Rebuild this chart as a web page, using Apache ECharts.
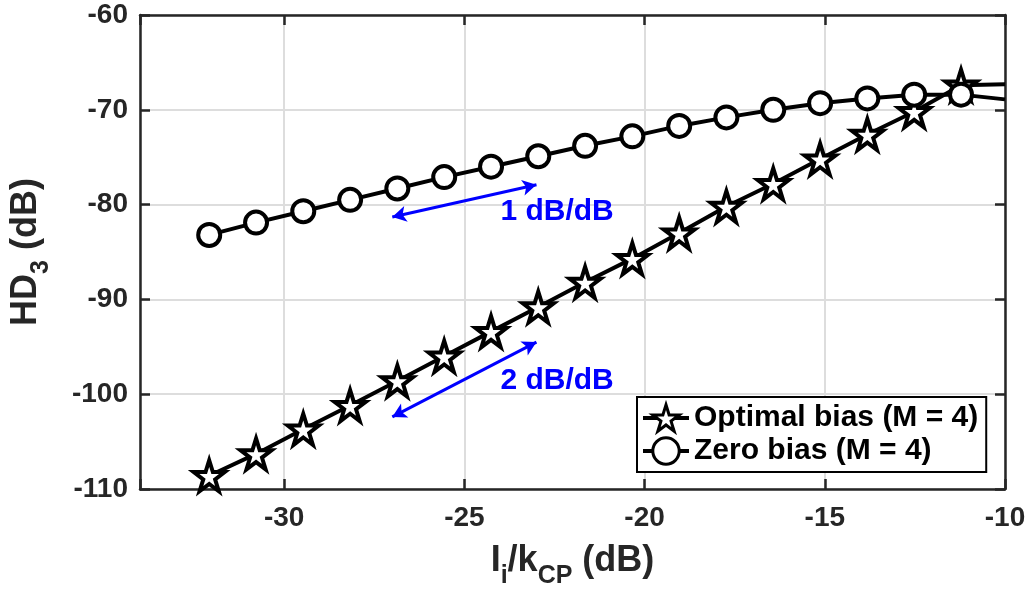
<!DOCTYPE html>
<html>
<head>
<meta charset="utf-8">
<script src="https://cdn.jsdelivr.net/npm/echarts@6/dist/echarts.min.js"></script>
<style>
  html, body { margin: 0; padding: 0; background: #fff; }
  #chart { width: 1031px; height: 592px; }
</style>
</head>
<body>
<div id="chart"></div>
<script>
// Input level I_i/k_CP (dB) at each simulated point
const inputLevel = [-32.08, -30.78, -29.47, -28.17, -26.86, -25.56, -24.26, -22.95, -21.65,
                    -20.34, -19.04, -17.73, -16.43, -15.13, -13.82, -12.52, -11.22, -10.0];

// Third-order harmonic distortion HD3 (dB)
const hd3Optimal = [-108.6, -106.3, -103.7, -101.2, -98.6, -96.0, -93.4, -90.8, -88.2,
                    -85.7, -83.0, -80.2, -77.8, -75.2, -72.6, -70.2, -67.4, -67.3];
const hd3Zero    = [-83.2, -81.9, -80.7, -79.5, -78.3, -77.1, -76.0, -74.9, -73.8,
                    -72.8, -71.7, -70.8, -70.0, -69.3, -68.8, -68.4, -68.4, -68.9];

const seriesNames = ['Optimal bias (M = 4)', 'Zero bias (M = 4)'];

// Slope guide arrows: [start, end] in (dB, dB), plus caption anchor
const slopeArrows = [
  { from: [-27.0, -81.3], to: [-23.0, -77.9], text: '1 dB/dB', at: [-24.0, -80.7] },
  { from: [-27.0, -102.4], to: [-23.0, -94.5], text: '2 dB/dB', at: [-24.0, -98.6] }
];

const xRange = { min: -34, max: -10, splitNumber: 5 };
const yTicks = { min: -110, max: -60, interval: 10 };

const FONT = '"Liberation Sans", Arial, Helvetica, sans-serif';
const AXIS_COLOR = '#262626';
const GRID_COLOR = '#dddddd';

const STAR = 'path://M50 0 L61.23 34.55 L97.55 34.55 L68.16 55.9 L79.39 90.45 L50 69.1 L20.61 90.45 L31.84 55.9 L2.45 34.55 L38.77 34.55 Z';

function pairs(xs, ys) {
  return xs.map((x, i) => {
    const item = { value: [x, ys[i]] };
    // the last point only carries the curve to the axis edge
    if (i === xs.length - 1) item.symbol = 'none';
    return item;
  });
}

const axisLineStyle = { color: AXIS_COLOR, width: 2.5 };
const innerTicks = { show: true, inside: true, length: 10, lineStyle: { color: AXIS_COLOR, width: 2.5 } };

const titleRich = {
  m: { fontFamily: FONT, fontWeight: 'bold', fontSize: 36, color: AXIS_COLOR, verticalAlign: 'top' },
  s: { fontFamily: FONT, fontWeight: 'bold', fontSize: 25, color: AXIS_COLOR, verticalAlign: 'top', padding: [21, 0, 0, 0] }
};

const chart = echarts.init(document.getElementById('chart'), null, { renderer: 'canvas' });

chart.setOption({
  backgroundColor: '#ffffff',
  animation: false,
  textStyle: { fontFamily: FONT },
  grid: { left: 140, right: 26, top: 15, bottom: 103, show: false, containLabel: false, outerBoundsMode: 'none' },
  legend: {
    orient: 'vertical',
    left: 637,
    top: 397,
    padding: [6, 8, 6, 4],
    itemGap: 3,
    itemWidth: 46,
    itemHeight: 33,
    backgroundColor: '#ffffff',
    borderColor: '#000000',
    borderWidth: 2,
    borderRadius: 0,
    lineStyle: { width: 4 },
    itemStyle: { borderWidth: 3 },
    data: seriesNames,
    textStyle: { fontFamily: FONT, fontWeight: 'bold', fontSize: 30, color: '#000' }
  },
  xAxis: [
    {
      type: 'value',
      min: xRange.min,
      max: xRange.max,
      splitNumber: xRange.splitNumber,
      axisLine: { show: true, onZero: false, lineStyle: axisLineStyle },
      axisTick: innerTicks,
      axisLabel: {
        color: AXIS_COLOR, fontFamily: FONT, fontWeight: 'bold', fontSize: 28, margin: 15,
        formatter: v => (v === xRange.min ? '' : String(v))
      },
      splitLine: { show: true, lineStyle: { color: GRID_COLOR, width: 2 } },
      name: '{m|I}{s|i}{m|/k}{s|CP}{m| (dB)}',
      nameLocation: 'middle',
      nameGap: 54,
      nameTextStyle: { rich: titleRich }
    },
    {
      // top frame edge
      type: 'value', position: 'top',
      min: xRange.min, max: xRange.max, splitNumber: xRange.splitNumber,
      axisLine: { show: true, onZero: false, lineStyle: axisLineStyle },
      axisTick: innerTicks,
      axisLabel: { show: false },
      splitLine: { show: false }
    }
  ],
  yAxis: [
    {
      type: 'value',
      min: yTicks.min,
      max: yTicks.max,
      interval: yTicks.interval,
      axisLine: { show: true, onZero: false, lineStyle: axisLineStyle },
      axisTick: innerTicks,
      axisLabel: { color: AXIS_COLOR, fontFamily: FONT, fontWeight: 'bold', fontSize: 28, margin: 12 },
      splitLine: { show: true, lineStyle: { color: GRID_COLOR, width: 2 } },
      name: '{m|HD}{s|3}{m| (dB)}',
      nameLocation: 'middle',
      nameGap: 86,
      nameTextStyle: { rich: titleRich }
    },
    {
      // right frame edge
      type: 'value', position: 'right',
      min: yTicks.min, max: yTicks.max, interval: yTicks.interval,
      axisLine: { show: true, onZero: false, lineStyle: axisLineStyle },
      axisTick: innerTicks,
      axisLabel: { show: false },
      splitLine: { show: false }
    }
  ],
  series: [
    {
      name: seriesNames[0],
      type: 'line',
      data: pairs(inputLevel, hd3Optimal),
      symbol: STAR,
      symbolSize: 31,
      showAllSymbol: true,
      lineStyle: { color: '#000', width: 4 },
      itemStyle: { color: '#ffffff', borderColor: '#000', borderWidth: 4 },
      z: 3
    },
    {
      name: seriesNames[1],
      type: 'line',
      data: pairs(inputLevel, hd3Zero),
      symbol: 'circle',
      symbolSize: 22,
      showAllSymbol: true,
      lineStyle: { color: '#000', width: 4 },
      itemStyle: { color: '#ffffff', borderColor: '#000', borderWidth: 4 },
      z: 4
    },
    {
      // slope guides with their captions
      type: 'scatter',
      silent: true,
      symbolSize: 0,
      itemStyle: { opacity: 1 },
      data: slopeArrows.map(a => ({ value: a.at, name: a.text })),
      label: {
        show: true,
        position: 'right',
        distance: 0,
        formatter: p => p.name,
        color: '#0000ff',
        opacity: 1,
        fontFamily: FONT,
        fontWeight: 'bold',
        fontSize: 30
      },
      markLine: {
        silent: true,
        symbol: ['arrow', 'arrow'],
        symbolSize: [12, 14],
        lineStyle: { color: '#0000ff', width: 3, type: 'solid', opacity: 1 },
        label: { show: false },
        data: slopeArrows.map(a => [{ coord: a.from }, { coord: a.to }])
      },
      z: 5
    }
  ]
});
</script>
</body>
</html>
